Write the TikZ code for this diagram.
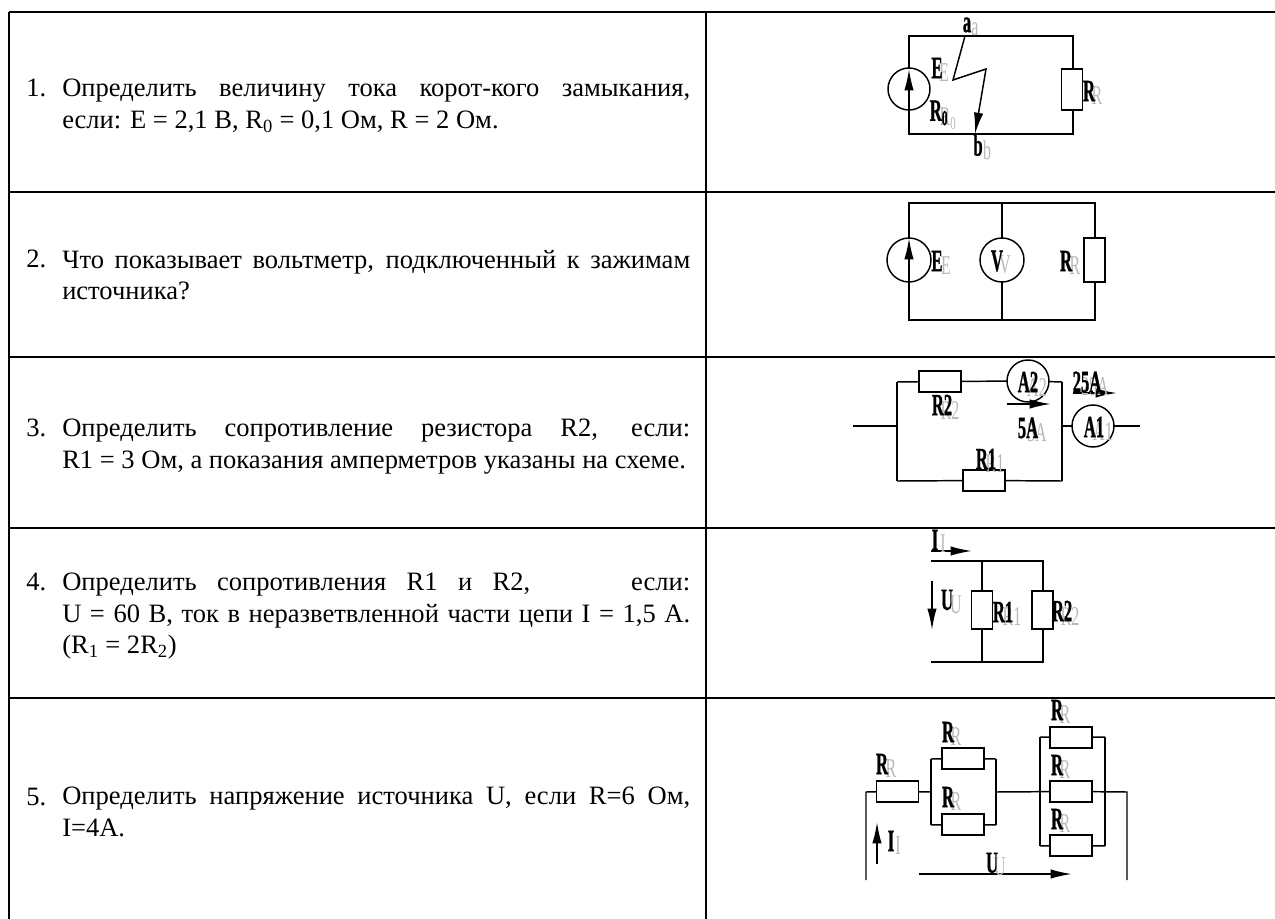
\documentclass[tikz,border=0pt]{standalone}
\usepackage{fontspec}
\setmainfont{Liberation Serif}
\newfontfamily\heavyfont[UprightFont=* Bold,FakeBold=1.2]{Liberation Serif}
\usepackage{tikz}
\usetikzlibrary{arrows.meta}
\tikzset{
  grid/.style={line width=1.6pt},
  wire/.style={line width=1.1pt},
  arrowwire/.style={line width=1.3pt,-{Latex[length=16pt,width=7pt]}},
  res/.style={draw,line width=1.1pt,fill=white,minimum width=#1,minimum height=15.5pt,inner sep=0pt,outer sep=0pt},
  resv/.style={draw,line width=1.1pt,fill=white,minimum width=16pt,minimum height=#1,inner sep=0pt,outer sep=0pt},
  meter/.style={draw,circle,line width=1.1pt,fill=white,minimum size=31.5pt,inner sep=0pt,outer sep=0pt},
  num/.style={anchor=base west,inner sep=0pt,font=\fontsize{19.9}{23.5}\selectfont},
  body/.style={anchor=north west,inner sep=0pt,text width=471pt,align=justify,font=\fontsize{19.9}{23.5}\selectfont},
  lab/.style={font=\fontsize{12.5}{14}\heavyfont,yscale=1.85,transform shape,inner sep=0pt},
  ghost/.style={font=\fontsize{12}{14}\selectfont,text=black!28,yscale=1.7,transform shape,inner sep=0pt},
}
\begin{document}
\begin{tikzpicture}[x=0.75pt,y=-0.75pt]
\useasboundingbox (0,0) rectangle (1275,919);
% table
\coordinate (t1) at (9,12);
\coordinate (t2) at (1275,12);
\coordinate (t3) at (9,919);
\coordinate (t4) at (706,12);
\coordinate (t5) at (706,919);
\coordinate (h1) at (9,192);
\coordinate (h2) at (1275,192);
\coordinate (h3) at (9,357);
\coordinate (h4) at (1275,357);
\coordinate (h5) at (9,528);
\coordinate (h6) at (1275,528);
\coordinate (h7) at (9,698);
\coordinate (h8) at (1275,698);
\draw[grid] (t1) -- (t2);
\draw[grid] (t1) -- (t3);
\draw[grid] (t4) -- (t5);
\draw[grid] (h1) -- (h2);
\draw[grid] (h3) -- (h4);
\draw[grid] (h5) -- (h6);
\draw[grid] (h7) -- (h8);
% text
\node[num] at (26,97) (n1) {1.};
\node[body] at (62,79) (q1) {Определить величину тока корот-кого замыкания,\linebreak если: E = 2,1 В, R\textsubscript{0} = 0,1 Ом, R = 2 Ом.};
\node[num] at (26,268) (n2) {2.};
\node[body] at (62,250) (q2) {Что показывает вольтметр, подключенный к зажимам\linebreak источника?};
\node[num] at (26,437) (n3) {3.};
\node[body] at (62,419) (q3) {Определить сопротивление резистора R2, если:\linebreak R1 = 3 Ом, а показания амперметров указаны на схеме.};
\node[num] at (26,591) (n4) {4.};
\node[body] at (62,573) (q4) {Определить сопротивления R1 и R2, \hspace{2em} если:\linebreak U = 60 В, ток в неразветвленной части цепи I = 1,5 А.\linebreak (R\textsubscript{1} = 2R\textsubscript{2})};
\node[num] at (26,805) (n5) {5.};
\node[body] at (62,787) (q5) {Определить напряжение источника U, если R=6 Ом,\linebreak I=4А.};
% circuit 1
\coordinate (a1) at (909,36);
\coordinate (a2) at (1073,36);
\coordinate (a3) at (909,134);
\coordinate (a4) at (1073,134);
\coordinate (z1) at (965,36);
\coordinate (z2) at (953,80);
\coordinate (z3) at (986,69);
\coordinate (z4) at (975,134);
\draw[wire] (a1) -- (a2) -- (a4) -- (a3) -- cycle;
\node[meter] at (909,89) (e1) {};
\node[resv=31pt] at (1072,89.5) (r1) {};
\coordinate (e1t) at (909,69);
\draw[arrowwire] (e1.south) -- (e1t);
\draw[wire,-{Latex[length=16pt,width=7pt]}] (z1) -- (z2) -- (z3) -- (z4);
\node[ghost] at (975,29) (ga1) {a};
\node[lab] at (967,25) (la1) {a};
\node[ghost] at (944,73) (ge1) {E};
\node[lab] at (937,68) (le1) {E};
\node[ghost] at (948,119) (gr0) {R\textsubscript{0}};
\node[lab] at (939,113) (lr0) {R\textsubscript{0}};
\node[ghost] at (1097,96) (gr1) {R};
\node[lab] at (1089,91) (lr1) {R};
\node[ghost] at (987,150) (gb1) {b};
\node[lab] at (978,145) (lb1) {b};
% circuit 2
\coordinate (b1) at (909,203);
\coordinate (b2) at (1002,203);
\coordinate (b3) at (1095,203);
\coordinate (b4) at (909,320);
\coordinate (b5) at (1002,320);
\coordinate (b6) at (1095,320);
\draw[wire] (b1) -- (b3) -- (b6) -- (b4) -- cycle;
\draw[wire] (b2) -- (b5);
\node[meter,minimum size=33pt] at (909,260) (e2) {};
\node[meter,minimum size=33pt] at (1002,260) (v2) {};
\node[resv=33pt] at (1094.5,260) (r2) {};
\coordinate (e2t) at (909,238);
\draw[arrowwire] (e2.south) -- (e2t);
\node[ghost] at (946,266) (ge2) {E};
\node[lab] at (937,261) (le2) {E};
\node[ghost] at (1005,265) (gv2) {V};
\node[lab] at (997,261) (lv2) {V};
\node[ghost] at (1075,266) (gr2) {R};
\node[lab] at (1066,261) (lr2) {R};
% circuit 3
\coordinate (c1) at (853,426);
\coordinate (c2) at (897,426);
\coordinate (c3) at (897,382);
\coordinate (c4) at (897,481);
\coordinate (c5) at (1062,382);
\coordinate (c6) at (1062,481);
\coordinate (c7) at (1062,426);
\coordinate (c8) at (1140,426);
\node[res=31.5pt] at (940,381.5) (r32) {};
\node[res=31.5pt] at (984,480.5) (r31) {};
\node[meter] at (1028,381) (a32) {};
\node[meter] at (1093,426) (a31) {};
\draw[wire] (c1) -- (c2);
\draw[wire] (c3) -- (c4);
\draw[wire] (c3) -- (r32);
\draw[wire] (r32) -- (a32);
\draw[wire] (a32) -- (c5);
\draw[wire] (c5) -- (c6);
\draw[wire] (c4) -- (r31);
\draw[wire] (r31) -- (c6);
\draw[wire] (c7) -- (a31);
\draw[wire] (a31) -- (c8);
\coordinate (c9) at (1007,404);
\coordinate (c10) at (1051,404);
\coordinate (c11) at (1073,393);
\coordinate (c12) at (1117,393);
\draw[arrowwire] (c9) -- (c10);
\draw[arrowwire] (c11) -- (c12);
\node[ghost] at (950,410) (gr32) {R2};
\node[lab] at (942,405) (lr32) {R2};
\node[ghost] at (1037,433) (g5a) {5A};
\node[lab] at (1028,428) (l5a) {5A};
\node[ghost] at (1095,387) (g25a) {25A};
\node[lab] at (1087,382) (l25a) {25A};
\node[ghost] at (1037,387) (ga32) {A2};
\node[lab] at (1028,382) (la32) {A2};
\node[ghost] at (1103,432) (ga31) {A1};
\node[lab] at (1094,427) (la31) {A1};
\node[ghost] at (995,464) (gr31) {R1};
\node[lab] at (986,459) (lr31) {R1};
% circuit 4
\coordinate (d1) at (931,561);
\coordinate (d2) at (982,561);
\coordinate (d3) at (1043,561);
\coordinate (d4) at (931,662);
\coordinate (d5) at (982,662);
\coordinate (d6) at (1043,662);
\draw[wire] (d1) -- (d3) -- (d6) -- (d4);
\draw[wire] (d2) -- (d5);
\node[resv=28.5pt] at (982,610) (r41) {};
\node[resv=28.5pt] at (1042.5,610) (r42) {};
\coordinate (d7) at (931,551);
\coordinate (d8) at (972,551);
\coordinate (d9) at (932,581);
\coordinate (d10) at (932,630);
\draw[arrowwire] (d7) -- (d8);
\draw[arrowwire] (d9) -- (d10);
\node[ghost] at (943,544) (gi4) {I};
\node[lab] at (935,540) (li4) {I};
\node[ghost] at (956,605) (gu4) {U};
\node[lab] at (947,600) (lu4) {U};
\node[ghost] at (1012,617) (gr41) {R1};
\node[lab] at (1003,612) (lr41) {R1};
\node[ghost] at (1070,616) (gr42) {R2};
\node[lab] at (1062,611) (lr42) {R2};
% circuit 5
\coordinate (f1) at (866,880);
\coordinate (f2) at (866,792);
\coordinate (f3) at (931,792);
\coordinate (f4) at (931,759);
\coordinate (f5) at (931,825);
\coordinate (f6) at (996,759);
\coordinate (f7) at (996,825);
\coordinate (f8) at (996,792);
\coordinate (f10) at (1040,737);
\coordinate (f11) at (1040,846);
\coordinate (f12) at (1105,737);
\coordinate (f13) at (1105,846);
\coordinate (f15) at (1127,792);
\coordinate (f16) at (1127,880);
\node[res=31.5pt] at (897.5,791.5) (r51) {};
\node[res=31.5pt] at (963,758.5) (r52) {};
\node[res=31.5pt] at (963,824.5) (r53) {};
\node[res=31.5pt] at (1071,737.5) (r54) {};
\node[res=31.5pt] at (1071,791.5) (r55) {};
\node[res=31.5pt] at (1071,845.5) (r56) {};
\draw[wire] (f1) -- (f2) -- (r51);
\draw[wire] (r51) -- (f3);
\draw[wire] (f4) -- (f5);
\draw[wire] (f4) -- (r52);
\draw[wire] (f5) -- (r53);
\draw[wire] (r52) -- (f6);
\draw[wire] (r53) -- (f7);
\draw[wire] (f6) -- (f7);
\draw[wire] (f8) -- (r55);
\draw[wire] (f10) -- (f11);
\draw[wire] (f10) -- (r54);
\draw[wire] (f11) -- (r56);
\draw[wire] (r54) -- (f12);
\draw[wire] (r56) -- (f13);
\draw[wire] (f12) -- (f13);
\draw[wire] (r55) -- (f15) -- (f16);
\coordinate (f17) at (877,864);
\coordinate (f18) at (877,822);
\coordinate (f19) at (919,874);
\coordinate (f20) at (1072,874);
\draw[arrowwire] (f17) -- (f18);
\draw[arrowwire] (f19) -- (f20);
\node[ghost] at (891,769) (gr51) {R};
\node[lab] at (882,764) (lr51) {R};
\node[ghost] at (956,737) (gr52) {R};
\node[lab] at (948,732) (lr52) {R};
\node[ghost] at (956,802) (gr53) {R};
\node[lab] at (948,797) (lr53) {R};
\node[ghost] at (1065,715) (gr54) {R};
\node[lab] at (1057,710) (lr54) {R};
\node[ghost] at (1065,770) (gr55) {R};
\node[lab] at (1057,765) (lr55) {R};
\node[ghost] at (1065,824) (gr56) {R};
\node[lab] at (1057,819) (lr56) {R};
\node[ghost] at (898,846) (gi5) {I};
\node[lab] at (891,841) (li5) {I};
\node[ghost] at (1000,867) (gu5) {U};
\node[lab] at (992,863) (lu5) {U};
\end{tikzpicture}
\end{document}
